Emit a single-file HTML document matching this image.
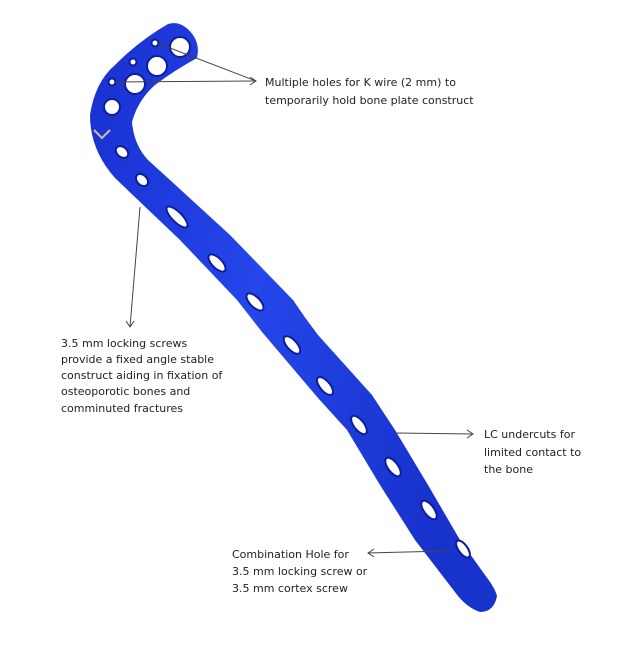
<!DOCTYPE html>
<html><head><style>
html,body{margin:0;padding:0;background:#fff;}
svg text{font-family:"DejaVu Sans",Verdana,sans-serif;font-size:11px;fill:#222;}
</style></head><body>
<svg width="640" height="640" viewBox="0 0 640 640" xmlns="http://www.w3.org/2000/svg">
<defs>
<linearGradient id="g" x1="0" y1="0" x2="1" y2="0.3">
<stop offset="0" stop-color="#1a30d0"/><stop offset="0.5" stop-color="#2446ea"/><stop offset="1" stop-color="#1832cc"/>
</linearGradient>
</defs>
<path d="M168,24 Q182,20 193,35 Q200,45 197,58 Q175,70 155,85 Q138,100 132,122 Q134,145 148,160 L170,180 L230,235 L293,300 Q305,318 318,335 L345,365 L372,395 L395,430 L428,485 L460,540 L485,575 Q495,588 497,596 Q494,612 480,612 Q468,608 458,596 L415,540 L380,485 L347,430 L318,398 L290,365 L262,332 L237,300 L180,240 L115,178 Q90,150 90,115 Q95,82 115,65 Q140,40 168,24 Z" fill="url(#g)"/>
<g fill="#fff" stroke="#0d1e9a" stroke-width="2">
<circle cx="180" cy="47" r="10"/>
<circle cx="155" cy="43" r="3.5"/>
<circle cx="157" cy="66" r="10"/>
<circle cx="133" cy="62" r="3.5"/>
<circle cx="135" cy="84" r="10"/>
<circle cx="112" cy="82" r="3.5"/>
<circle cx="112" cy="107" r="8"/>
</g>
<path d="M94,130 L102,138 L110,130" stroke="#c8c0a8" stroke-width="2" fill="none"/>
<g fill="#fff" stroke="#0d1e9a" stroke-width="2">
<ellipse cx="122" cy="152" rx="7" ry="5" transform="rotate(40 122 152)"/>
<ellipse cx="142" cy="180" rx="7" ry="5" transform="rotate(45 142 180)"/>
<ellipse cx="177" cy="217" rx="14" ry="5" transform="rotate(45 177 217)"/>
<ellipse cx="217" cy="263" rx="11" ry="5" transform="rotate(45 217 263)"/>
<ellipse cx="255" cy="302" rx="11" ry="5" transform="rotate(45 255 302)"/>
<ellipse cx="292" cy="345" rx="11" ry="5" transform="rotate(48 292 345)"/>
<ellipse cx="325" cy="386" rx="11" ry="5" transform="rotate(50 325 386)"/>
<ellipse cx="359" cy="425" rx="11" ry="5" transform="rotate(52 359 425)"/>
<ellipse cx="393" cy="467" rx="11" ry="5" transform="rotate(53 393 467)"/>
<ellipse cx="429" cy="510" rx="11" ry="5" transform="rotate(53 429 510)"/>
<ellipse cx="463" cy="549" rx="10" ry="4.5" transform="rotate(54 463 549)"/>
</g>
<g stroke="#444" stroke-width="1" fill="none">
<line x1="157" y1="43" x2="256" y2="81"/>
<line x1="114" y1="82" x2="256" y2="81"/>
<path d="M250,77 L256,81 L250,85"/>
<line x1="140" y1="207" x2="130" y2="327"/>
<path d="M126,321 L130,327 L134,321"/>
<line x1="396" y1="433" x2="473" y2="434"/>
<path d="M467,430 L473,434 L467,438"/>
<line x1="447" y1="551" x2="368" y2="553"/>
<path d="M374,549 L368,553 L374,557"/>
</g>
<text x="265" y="86">Multiple holes for K wire (2 mm) to</text>
<text x="265" y="104">temporarily hold bone plate construct</text>
<text x="61" y="347">3.5 mm locking screws</text>
<text x="61" y="363">provide a fixed angle stable</text>
<text x="61" y="379">construct aiding in fixation of</text>
<text x="61" y="395">osteoporotic bones and</text>
<text x="61" y="412">comminuted fractures</text>
<text x="484" y="438">LC undercuts for</text>
<text x="484" y="456">limited contact to</text>
<text x="484" y="473">the bone</text>
<text x="232" y="558">Combination Hole for</text>
<text x="232" y="575">3.5 mm locking screw or</text>
<text x="232" y="592">3.5 mm cortex screw</text>
</svg>
</body></html>
